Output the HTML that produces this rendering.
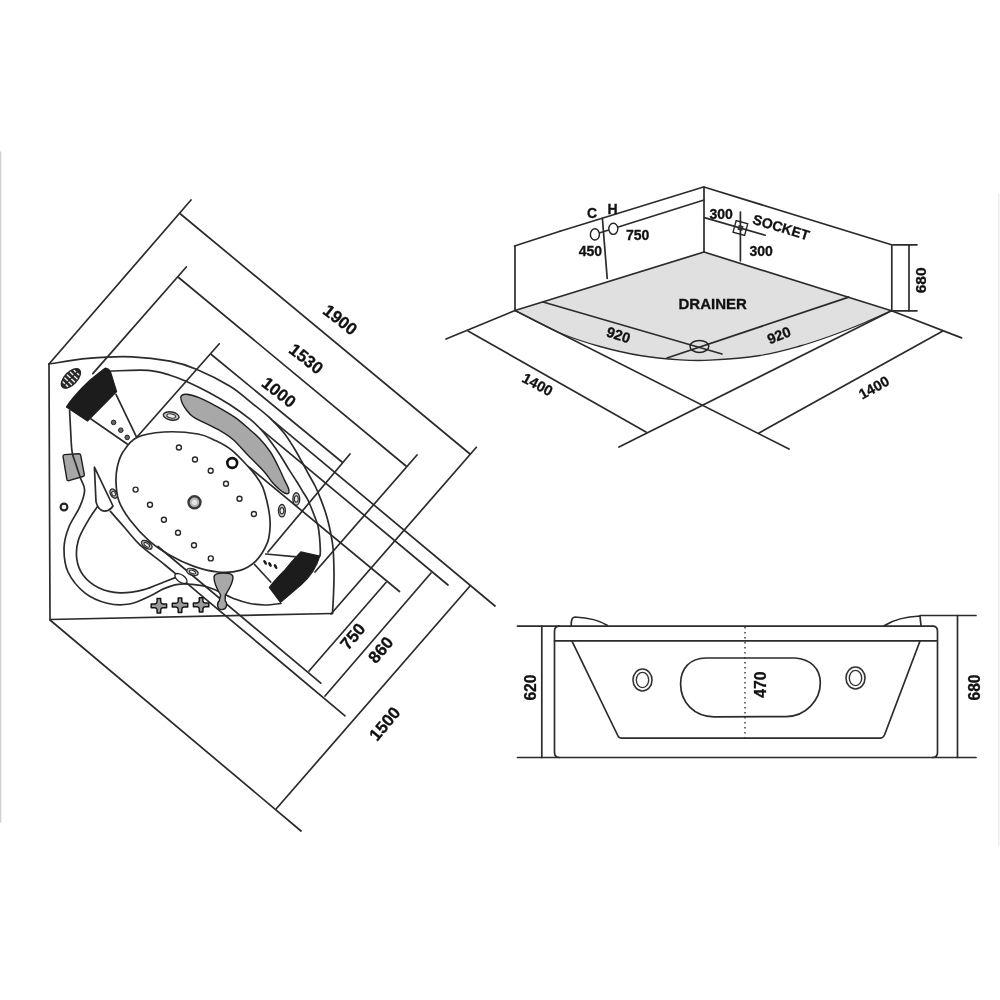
<!DOCTYPE html>
<html><head><meta charset="utf-8"><style>
html,body{margin:0;padding:0;background:#fff;}
svg{display:block;will-change:transform;}
.l{fill:none;stroke:#2b2b2b;stroke-width:1.7;stroke-linecap:round;stroke-linejoin:round;}
line{stroke:#2b2b2b;stroke-width:1.7;stroke-linecap:round;}
.g{fill:#a8a8a8;stroke:#1e1e1e;stroke-width:1.4;}
.b{fill:#1c1c1c;stroke:#1c1c1c;stroke-width:1.2;stroke-linejoin:round;}
text{font-family:"Liberation Sans",sans-serif;font-weight:bold;fill:#111;stroke:#111;stroke-width:0.3;}
</style></head><body>
<svg width="1000" height="1000" viewBox="0 0 1000 1000">
<rect width="1000" height="1000" fill="#fff"/>
<line x1="0.6" y1="152" x2="0.6" y2="822" style="stroke:#cfcfcf;stroke-width:1.3"/>
<line x1="998.8" y1="194" x2="998.8" y2="845" style="stroke:#ebebeb;stroke-width:1.3"/>
<path d="M49,364 L50,619.5 L332.5,613.5" class="l" />
<path d="M49.0,364.0 C55.5,363.1 74.2,359.6 88.0,358.4 C101.8,357.2 118.3,356.3 132.0,356.8 C145.7,357.3 159.3,359.1 170.0,361.2 C180.7,363.3 186.4,365.0 196.4,369.2 C206.4,373.4 221.1,380.8 230.0,386.2 C238.9,391.6 243.3,396.3 250.0,401.6 C256.7,406.9 264.3,412.8 270.0,418.0 C275.7,423.2 280.0,428.0 284.0,433.0 C288.0,438.0 291.0,443.2 294.0,448.0 C297.0,452.8 299.5,457.5 302.0,462.0 C304.5,466.5 306.7,470.8 309.0,475.0 C311.3,479.2 313.6,482.8 315.6,487.0 C317.6,491.2 319.5,495.9 321.2,500.4 C322.9,504.9 324.7,509.7 326.0,514.0 C327.3,518.3 328.3,522.0 329.2,526.0 C330.1,530.0 330.9,534.0 331.6,538.0 C332.3,542.0 332.8,544.3 333.2,550.0 C333.6,555.7 333.9,565.0 334.0,572.0 C334.1,579.0 333.9,585.1 333.6,592.0 C333.4,598.9 332.7,609.9 332.5,613.5" class="l" />
<path d="M111.0,371.0 C117.2,370.9 138.2,369.7 148.0,370.4 C157.8,371.1 163.7,373.4 170.0,375.2 C176.3,377.0 179.7,378.4 186.0,381.2 C192.3,384.0 200.7,388.1 208.0,392.0 C215.3,395.9 223.0,400.3 230.0,404.8 C237.0,409.3 244.8,415.1 250.0,419.2 C255.2,423.3 257.5,425.7 261.0,429.5 C264.5,433.3 267.8,437.7 271.0,442.0 C274.2,446.3 277.4,450.9 280.4,455.5 C283.4,460.1 286.2,465.2 289.0,469.6 C291.8,474.0 294.7,478.3 297.0,482.0 C299.3,485.7 301.1,488.8 303.0,492.0 C304.9,495.2 306.6,497.2 308.4,501.0 C310.2,504.8 312.4,510.6 314.0,514.8 C315.6,519.0 317.1,522.1 318.0,526.0 C318.9,529.9 319.2,534.0 319.6,538.0 C320.0,542.0 320.2,547.0 320.3,550.0 C320.4,553.0 320.1,555.0 320.0,556.0" class="l" />
<line x1="49" y1="364" x2="191" y2="200" class="l"/>
<line x1="180.5" y1="214" x2="470" y2="454" class="l"/>
<line x1="476.4" y1="447.3" x2="331" y2="614" class="l"/>
<line x1="92.8" y1="373.6" x2="186.3" y2="267" class="l"/>
<line x1="178" y1="277" x2="406" y2="466" class="l"/>
<line x1="417" y1="455" x2="315" y2="572" class="l"/>
<line x1="137" y1="437" x2="219.3" y2="343.8" class="l"/>
<line x1="211.3" y1="354.5" x2="342" y2="462" class="l"/>
<line x1="350" y1="454" x2="268" y2="552" class="l"/>
<line x1="50" y1="620" x2="301" y2="831" class="l"/>
<line x1="276.5" y1="808.5" x2="470" y2="586" class="l"/>
<line x1="274" y1="421.6" x2="495" y2="606" class="l"/>
<line x1="325" y1="696" x2="431" y2="573" class="l"/>
<line x1="260.4" y1="428.8" x2="448" y2="585" class="l"/>
<path d="M110.4,511.4 C112.8,514.2 120.0,522.3 125.0,528.0 C130.0,533.7 133.8,539.2 140.5,545.4 C147.2,551.6 155.1,556.9 165.0,565.0 C174.9,573.1 170.0,569.2 200.0,594.3 C230.0,619.4 320.8,695.5 345.0,715.8" class="l" />
<line x1="309" y1="671" x2="386" y2="582.5" class="l"/>
<line x1="249.5" y1="467.5" x2="399.5" y2="591.5" class="l"/>
<line x1="158" y1="546.5" x2="320.8" y2="683.2" class="l"/>
<text x="340" y="320" font-size="17" transform="rotate(38 340 320)" text-anchor="middle" dominant-baseline="central">1900</text>
<text x="306" y="359" font-size="17" transform="rotate(38 306 359)" text-anchor="middle" dominant-baseline="central">1530</text>
<text x="278.7" y="392.5" font-size="17" transform="rotate(38 278.7 392.5)" text-anchor="middle" dominant-baseline="central">1000</text>
<text x="353" y="636.5" font-size="17" transform="rotate(-50 353 636.5)" text-anchor="middle" dominant-baseline="central">750</text>
<text x="381" y="650" font-size="17" transform="rotate(-50 381 650)" text-anchor="middle" dominant-baseline="central">860</text>
<text x="385" y="724" font-size="17" transform="rotate(-50 385 724)" text-anchor="middle" dominant-baseline="central">1500</text>
<path d="M136.8,437.6 C143.6,434.3 153.8,432.6 164.0,432.0 C174.2,431.4 189.3,432.5 198.0,434.0 C206.7,435.5 210.3,438.1 216.0,440.8 C221.7,443.5 226.7,446.1 232.0,450.4 C237.3,454.7 244.0,462.1 248.0,466.4 C252.0,470.7 253.6,472.7 256.0,476.0 C258.4,479.3 260.6,482.4 262.4,486.4 C264.2,490.4 265.4,495.2 266.6,500.0 C267.8,504.8 268.9,510.3 269.5,515.0 C270.1,519.7 270.4,523.3 270.0,528.0 C269.6,532.7 269.5,537.7 267.2,543.2 C264.9,548.7 260.5,556.3 256.0,560.8 C251.5,565.3 246.3,568.5 240.0,570.4 C233.7,572.3 225.7,572.7 218.0,572.0 C210.3,571.3 202.0,569.2 194.0,566.4 C186.0,563.6 177.5,559.5 170.0,555.2 C162.5,550.9 155.9,546.7 149.2,540.8 C142.5,534.9 135.1,526.7 130.0,520.0 C124.9,513.3 121.1,507.1 118.8,500.8 C116.5,494.5 116.2,487.8 116.0,482.0 C115.8,476.2 116.3,471.0 117.5,466.0 C118.7,461.0 119.8,456.7 123.0,452.0 C126.2,447.3 130.0,440.9 136.8,437.6Z" class="l" />
<path d="M181.0,396.5 C181.6,395.1 183.0,394.1 186.0,394.3 C189.0,394.5 193.8,395.6 199.0,397.6 C204.2,399.7 211.0,403.3 217.0,406.6 C223.0,409.9 229.8,413.8 235.0,417.4 C240.2,421.0 243.8,424.4 248.0,428.0 C252.2,431.6 256.3,435.0 260.0,439.0 C263.7,443.0 267.4,447.5 270.4,452.0 C273.4,456.5 275.7,461.5 278.0,466.0 C280.3,470.5 282.2,475.2 284.0,479.0 C285.8,482.8 287.8,486.1 288.5,488.5 C289.2,490.9 289.2,492.4 288.5,493.2 C287.8,493.9 286.1,493.7 284.5,493.0 C282.9,492.3 281.1,490.8 279.0,489.0 C276.9,487.2 274.5,484.9 272.0,482.0 C269.5,479.1 268.0,476.0 264.0,471.5 C260.0,467.0 253.2,460.5 248.0,455.2 C242.8,449.9 237.7,443.6 233.0,439.5 C228.3,435.4 225.2,433.6 220.0,430.6 C214.8,427.6 206.5,423.9 202.0,421.6 C197.5,419.3 195.5,418.6 193.0,416.8 C190.5,415.0 188.8,413.1 187.0,410.8 C185.2,408.5 183.2,405.4 182.2,403.0 C181.2,400.6 180.4,397.9 181.0,396.5Z" class="g" />
<path d="M105.5,368.1 Q109,368.6 110.3,371.2 L116.6,391.6 L87.5,421 L66.4,407 C68.5,403.5 70.5,401 73.5,397.5 C76.5,394 79.5,390.5 83,387 C86.5,383.5 89.5,380.5 93,377.8 C96,375.3 98.5,373.3 101.2,371.2 C102.7,370 104,368.8 105.5,368.1 Z" class="b" />
<path d="M300.8,551.9 L319.7,556.1 C317,566 310,577 300.8,585 C295,590 287,597 280.5,602.3 L269.3,587.5 C275,580 280,575 284,571 C288,566 294,559 300.8,551.9 Z" class="b" />
<line x1="116" y1="394.4" x2="136.8" y2="437.6" class="l"/>
<line x1="91" y1="419" x2="127.2" y2="444" class="l"/>
<line x1="265.8" y1="554" x2="296.6" y2="556.8" class="l"/>
<line x1="254.6" y1="564.5" x2="270.7" y2="582" class="l"/>
<circle cx="113.6" cy="422.4" r="2.3" fill="#666" stroke="#222" stroke-width="1"/>
<circle cx="120.8" cy="430.2" r="2.3" fill="#666" stroke="#222" stroke-width="1"/>
<circle cx="127.2" cy="437.4" r="2.3" fill="#666" stroke="#222" stroke-width="1"/>
<ellipse cx="265.1" cy="562.4" rx="1.4" ry="2.7" style="fill:#1a1a1a" transform="rotate(-30 265.1 562.4)"/>
<ellipse cx="270" cy="564.5" rx="1.4" ry="2.7" style="fill:#1a1a1a" transform="rotate(-30 270 564.5)"/>
<ellipse cx="275.6" cy="566.6" rx="1.4" ry="2.7" style="fill:#1a1a1a" transform="rotate(-30 275.6 566.6)"/>
<g transform="rotate(-46 70.9 378.4)"><ellipse cx="70.9" cy="378.4" rx="12.2" ry="6.3" style="fill:#2a2a2a;stroke:#222;stroke-width:1.2"/><line x1="62.900000000000006" y1="375.2" x2="62.900000000000006" y2="381.59999999999997" style="stroke:#e8e8e8;stroke-width:1.4;stroke-linecap:round"/><line x1="66.9" y1="373.79999999999995" x2="66.9" y2="383.0" style="stroke:#e8e8e8;stroke-width:1.4;stroke-linecap:round"/><line x1="70.9" y1="373.4" x2="70.9" y2="383.4" style="stroke:#e8e8e8;stroke-width:1.4;stroke-linecap:round"/><line x1="74.9" y1="373.79999999999995" x2="74.9" y2="383.0" style="stroke:#e8e8e8;stroke-width:1.4;stroke-linecap:round"/><line x1="78.9" y1="375.2" x2="78.9" y2="381.59999999999997" style="stroke:#e8e8e8;stroke-width:1.4;stroke-linecap:round"/><line x1="60.900000000000006" y1="378.4" x2="80.9" y2="378.4" style="stroke:#222;stroke-width:1.3"/></g>
<path d="M64.5,454.6 L78.6,453.7 Q80.4,453.6 80.7,455.3 L84.3,474.3 Q84.6,476 82.9,476.5 L68.9,480.6 Q67.2,481 66.9,479.3 L63,456.3 Q62.9,454.7 64.5,454.6 Z" class="g" />
<circle cx="64" cy="507" r="3.4" fill="#f4f4f4" stroke="#222" stroke-width="2.1"/>
<path d="M69.6,410.4 C69.8,413.7 70.2,423.1 70.6,430.0 C71.0,436.9 71.2,446.0 72.1,451.8 C73.0,457.5 74.7,460.2 76.0,464.5 C77.3,468.8 78.8,473.1 80.2,477.4 C81.6,481.6 84.6,485.2 84.6,490.0 C84.6,494.8 82.6,500.2 80.0,506.4 C77.4,512.6 71.5,520.3 68.8,527.2 C66.1,534.1 64.1,540.5 64.0,548.0 C63.9,555.5 64.5,564.5 68.0,572.0 C71.5,579.5 78.3,587.6 84.8,592.8 C91.3,598.0 99.7,601.3 107.2,603.2 C114.7,605.1 122.5,605.2 129.6,604.0 C136.7,602.8 144.3,598.6 150.0,596.0 C155.7,593.4 159.3,590.5 164.0,588.6 C168.7,586.7 173.3,585.1 178.0,584.4 C182.7,583.7 187.3,584.0 192.0,584.4 C196.7,584.8 201.3,585.2 206.0,586.5 C210.7,587.8 215.2,589.9 220.0,592.0 C224.8,594.1 230.0,597.1 235.0,599.0 C240.0,600.9 245.0,602.5 250.0,603.5 C255.0,604.5 259.8,605.0 265.0,605.0 C270.2,605.0 278.3,603.8 281.0,603.5" class="l" />
<path d="M97.6,506.4 C96.0,508.8 91.2,515.2 88.0,520.8 C84.8,526.4 80.3,533.6 78.4,540.0 C76.5,546.4 76.0,553.3 76.8,559.2 C77.6,565.1 79.5,570.4 83.2,575.2 C86.9,580.0 93.1,585.1 99.2,588.0 C105.3,590.9 112.5,592.5 120.0,592.8 C127.5,593.1 136.7,591.4 144.0,589.6 C151.3,587.8 158.7,584.0 164.0,582.0 C169.3,580.0 174.0,578.2 176.0,577.4" class="l" />
<ellipse cx="181" cy="578.5" rx="7" ry="3.6" transform="rotate(35 181 578.5)" style="fill:#fff;stroke:#222;stroke-width:1.3"/>
<path d="M94.4,467.2 L96,501.6 Q98,510 104,511.2 Q110,511 113,506 Z" class="l" fill="#fff"/>
<circle cx="178.9" cy="447.5" r="2.5" fill="#fff" stroke="#2a2a2a" stroke-width="1.4"/>
<circle cx="195" cy="459.5" r="2.5" fill="#fff" stroke="#2a2a2a" stroke-width="1.4"/>
<circle cx="210.7" cy="470.8" r="2.5" fill="#fff" stroke="#2a2a2a" stroke-width="1.4"/>
<circle cx="226" cy="483.8" r="2.5" fill="#fff" stroke="#2a2a2a" stroke-width="1.4"/>
<circle cx="239.5" cy="498.7" r="2.5" fill="#fff" stroke="#2a2a2a" stroke-width="1.4"/>
<circle cx="253.9" cy="514" r="2.5" fill="#fff" stroke="#2a2a2a" stroke-width="1.4"/>
<circle cx="135.6" cy="489.6" r="2.5" fill="#fff" stroke="#2a2a2a" stroke-width="1.4"/>
<circle cx="150" cy="504.8" r="2.5" fill="#fff" stroke="#2a2a2a" stroke-width="1.4"/>
<circle cx="163.9" cy="519.7" r="2.5" fill="#fff" stroke="#2a2a2a" stroke-width="1.4"/>
<circle cx="178" cy="532.8" r="2.5" fill="#fff" stroke="#2a2a2a" stroke-width="1.4"/>
<circle cx="194" cy="545.3" r="2.5" fill="#fff" stroke="#2a2a2a" stroke-width="1.4"/>
<circle cx="210.8" cy="558.4" r="2.5" fill="#fff" stroke="#2a2a2a" stroke-width="1.4"/>
<circle cx="232.2" cy="463" r="4.9" style="fill:#fff;stroke:#111;stroke-width:2.6"/>
<circle cx="194.5" cy="502.3" r="6" fill="#bbb" stroke="#3a3a3a" stroke-width="2.4"/><circle cx="194.5" cy="502.3" r="2.6" fill="#e6e6e6"/>
<g transform="rotate(10 171.2 416)"><ellipse cx="171.2" cy="416" rx="8" ry="4" fill="#c4c4c4" stroke="#2a2a2a" stroke-width="1.4"/><ellipse cx="171.2" cy="416" rx="4.4" ry="2.0" fill="#eee" stroke="#333" stroke-width="1.1"/></g>
<g transform="rotate(0 296.3 498.9)"><ellipse cx="296.3" cy="498.9" rx="3.4" ry="6.2" fill="#c4c4c4" stroke="#2a2a2a" stroke-width="1.4"/><ellipse cx="296.3" cy="498.9" rx="1.9" ry="3.1" fill="#eee" stroke="#333" stroke-width="1.1"/></g>
<g transform="rotate(0 281.9 510.7)"><ellipse cx="281.9" cy="510.7" rx="3.4" ry="6.2" fill="#c4c4c4" stroke="#2a2a2a" stroke-width="1.4"/><ellipse cx="281.9" cy="510.7" rx="1.9" ry="3.1" fill="#eee" stroke="#333" stroke-width="1.1"/></g>
<g transform="rotate(-30 113.6 493.6)"><ellipse cx="113.6" cy="493.6" rx="3" ry="5" fill="#c4c4c4" stroke="#2a2a2a" stroke-width="1.4"/><ellipse cx="113.6" cy="493.6" rx="1.7" ry="2.5" fill="#eee" stroke="#333" stroke-width="1.1"/></g>
<g transform="rotate(35 146.8 544.8)"><ellipse cx="146.8" cy="544.8" rx="6" ry="3.2" fill="#c4c4c4" stroke="#2a2a2a" stroke-width="1.4"/><ellipse cx="146.8" cy="544.8" rx="3.3" ry="1.6" fill="#eee" stroke="#333" stroke-width="1.1"/></g>
<g transform="rotate(20 192.4 572)"><ellipse cx="192.4" cy="572" rx="6" ry="3.2" fill="#c4c4c4" stroke="#2a2a2a" stroke-width="1.4"/><ellipse cx="192.4" cy="572" rx="3.3" ry="1.6" fill="#eee" stroke="#333" stroke-width="1.1"/></g>
<path d="M151.2,603.9 L154.9,603.9 Q156.9,603.8 157.1,601.8 L157.1,598.6 L160.7,598.6 L160.7,601.8 Q160.9,603.8 162.9,603.9 L166.6,603.9 L166.6,607.7 L162.9,607.7 Q160.9,607.8 160.7,609.8 L160.7,613.0 L157.1,613.0 L157.1,609.8 Q156.9,607.8 154.9,607.7 L151.2,607.7 Z" style="fill:#9a9a9a;stroke:#151515;stroke-width:1.5;stroke-linejoin:round"/>
<path d="M172.3,603.3 L176.0,603.3 Q178.0,603.2 178.2,601.2 L178.2,598.0 L181.8,598.0 L181.8,601.2 Q182.0,603.2 184.0,603.3 L187.7,603.3 L187.7,607.1 L184.0,607.1 Q182.0,607.2 181.8,609.2 L181.8,612.4 L178.2,612.4 L178.2,609.2 Q178.0,607.2 176.0,607.1 L172.3,607.1 Z" style="fill:#9a9a9a;stroke:#151515;stroke-width:1.5;stroke-linejoin:round"/>
<path d="M193.4,603.0 L197.1,603.0 Q199.1,602.9 199.3,600.9 L199.3,597.7 L202.9,597.7 L202.9,600.9 Q203.1,602.9 205.1,603.0 L208.8,603.0 L208.8,606.8 L205.1,606.8 Q203.1,606.9 202.9,608.9 L202.9,612.1 L199.3,612.1 L199.3,608.9 Q199.1,606.9 197.1,606.8 L193.4,606.8 Z" style="fill:#9a9a9a;stroke:#151515;stroke-width:1.5;stroke-linejoin:round"/>
<path d="M214,577 C214,571.6 233,571.6 233,577 C233,584 228.5,590 225.3,595 L225.2,600.8 C227.5,603 227.2,609.6 221.9,609.6 C216.8,609.6 216.6,603.2 219.3,600.8 L220.6,595 C217.5,590 214,584 214,577 Z" class="g" />
<path d="M515.0,310.5 C522.5,314.2 545.8,327.0 560.0,333.0 C574.2,339.0 586.7,342.8 600.0,346.5 C613.3,350.2 626.7,353.3 640.0,355.5 C653.3,357.7 668.3,359.0 680.0,359.8 C691.7,360.6 696.7,360.9 710.0,360.2 C723.3,359.5 745.0,357.9 760.0,355.5 C775.0,353.1 788.0,349.3 800.0,346.0 C812.0,342.7 821.2,339.4 832.0,335.5 C842.8,331.6 855.1,326.6 865.0,322.5 C874.9,318.4 887.1,312.8 891.5,310.8 L704,252 Z" style="fill:#e0e0e0;stroke:none"/>
<line x1="514.5" y1="246" x2="560" y2="231.2" class="l"/>
<line x1="560" y1="231.2" x2="703.5" y2="187" class="l"/>
<line x1="515" y1="246" x2="515" y2="310.5" class="l"/>
<line x1="515" y1="310.5" x2="704" y2="252" class="l"/>
<line x1="704" y1="187" x2="704" y2="252" class="l"/>
<line x1="704" y1="187" x2="891.5" y2="244.8" class="l"/>
<line x1="891.8" y1="244.8" x2="891.8" y2="310.8" class="l"/>
<line x1="704" y1="252" x2="891.5" y2="310.8" class="l"/>
<line x1="590.5" y1="235.8" x2="704" y2="200" class="l"/>
<line x1="704.4" y1="217.6" x2="765.2" y2="235.2" class="l"/>
<line x1="602.4" y1="218.4" x2="607.2" y2="278.4" class="l"/>
<line x1="740.4" y1="212" x2="740.4" y2="260.8" class="l"/>
<path d="M515.0,310.5 C522.5,314.2 545.8,327.0 560.0,333.0 C574.2,339.0 586.7,342.8 600.0,346.5 C613.3,350.2 626.7,353.3 640.0,355.5 C653.3,357.7 668.3,359.0 680.0,359.8 C691.7,360.6 696.7,360.9 710.0,360.2 C723.3,359.5 745.0,357.9 760.0,355.5 C775.0,353.1 788.0,349.3 800.0,346.0 C812.0,342.7 821.2,339.4 832.0,335.5 C842.8,331.6 855.1,326.6 865.0,322.5 C874.9,318.4 887.1,312.8 891.5,310.8" class="l" style="stroke-width:1.3"/>
<line x1="543" y1="302" x2="722" y2="354" class="l"/>
<line x1="848.8" y1="297.1" x2="667" y2="358" class="l"/>
<ellipse cx="699.4" cy="346.4" rx="9.4" ry="6" fill="none" stroke="#222" stroke-width="1.5"/>
<ellipse cx="594.9" cy="234.4" rx="4.5" ry="5.6" fill="#fff" stroke="#222" stroke-width="1.4"/>
<ellipse cx="613.3" cy="228.8" rx="4.5" ry="5.6" fill="#fff" stroke="#222" stroke-width="1.4"/>
<rect x="734.4" y="222" width="12" height="12" fill="none" stroke="#222" stroke-width="1.3" transform="rotate(15 740.4 228)"/>
<rect x="738" y="225.5" width="5" height="5" fill="#333" transform="rotate(15 740.4 228)"/>
<line x1="515" y1="310.5" x2="446" y2="339" class="l"/>
<line x1="468" y1="331" x2="646" y2="432" class="l"/>
<line x1="515" y1="310.5" x2="789" y2="449" class="l"/>
<line x1="891.5" y1="310.8" x2="619" y2="447" class="l"/>
<line x1="891.5" y1="310.8" x2="961.6" y2="337.9" class="l"/>
<line x1="942.4" y1="331.2" x2="759" y2="433" class="l"/>
<line x1="893" y1="244.8" x2="917" y2="244.8" class="l"/>
<line x1="893" y1="310.8" x2="917" y2="310.8" class="l"/>
<line x1="909" y1="244.8" x2="909" y2="310.8" class="l"/>
<text x="592" y="217.5" font-size="14" text-anchor="middle">C</text>
<text x="612.5" y="213.5" font-size="14" text-anchor="middle">H</text>
<text x="637.6" y="239.5" font-size="14" text-anchor="middle">750</text>
<text x="590.4" y="255.5" font-size="14" text-anchor="middle">450</text>
<text x="721.2" y="218.7" font-size="14" text-anchor="middle">300</text>
<text x="761.2" y="256.3" font-size="14" text-anchor="middle">300</text>
<text x="781.2" y="227.2" font-size="14" transform="rotate(17 781.2 227.2)" text-anchor="middle" dominant-baseline="central">SOCKET</text>
<text x="712.7" y="303.2" font-size="15" text-anchor="middle" dominant-baseline="central">DRAINER</text>
<text x="618.5" y="335" font-size="14.5" transform="rotate(18 618.5 335)" text-anchor="middle" dominant-baseline="central">920</text>
<text x="779" y="335.3" font-size="14.5" transform="rotate(-22 779 335.3)" text-anchor="middle" dominant-baseline="central">920</text>
<text x="537.5" y="384.5" font-size="14.5" transform="rotate(28 537.5 384.5)" text-anchor="middle" dominant-baseline="central">1400</text>
<text x="874" y="387.6" font-size="14.5" transform="rotate(-29 874 387.6)" text-anchor="middle" dominant-baseline="central">1400</text>
<text x="920.2" y="280.3" font-size="15.5" transform="rotate(-90 920.2 280.3)" text-anchor="middle" dominant-baseline="central">680</text>
<line x1="517.5" y1="626.2" x2="932.5" y2="626.2" class="l"/>
<line x1="517.5" y1="757.5" x2="976" y2="757.5" class="l"/>
<line x1="541.8" y1="626.2" x2="541.8" y2="757.5" class="l"/>
<path d="M559.5,626.2 Q554.5,626.2 554.5,631.2 L554.5,752.5 Q554.5,757.5 559.5,757.5" class="l" fill="none"/>
<path d="M932.5,626.2 Q937.5,626.2 937.5,631.2 L937.5,752.5 Q937.5,757.5 932.5,757.5" class="l" fill="none"/>
<line x1="554.5" y1="640.8" x2="936.5" y2="640.8" class="l"/>
<path d="M572,641.2 L618,736 Q619,738.2 622,738.2 L880,738.2 Q883,738.2 884.5,735 L920,641" class="l" fill="none"/>
<path d="M571.2,625.5 Q571,617 575,617 Q596,618 607.5,625.5" class="l" fill="none"/>
<path d="M884.5,625.5 Q898,617 920,616 L921,625.5" class="l" fill="none"/>
<path d="M706,658 L795,658 C810,659 820.3,668 820.3,683 C820.3,700 806,716.5 786,716.6 L714,716.8 C694,716.5 680.6,702 680.6,684 C680.6,668 690,658.3 706,658 Z" class="l" />
<ellipse cx="642.5" cy="680" rx="9.5" ry="11" fill="none" stroke="#333" stroke-width="1.6"/><ellipse cx="642.5" cy="680" rx="6.2" ry="7.6" fill="none" stroke="#333" stroke-width="1.4"/>
<ellipse cx="855.5" cy="678" rx="9.5" ry="11" fill="none" stroke="#333" stroke-width="1.6"/><ellipse cx="855.5" cy="678" rx="6.2" ry="7.6" fill="none" stroke="#333" stroke-width="1.4"/>
<line x1="745" y1="627" x2="745" y2="738" style="stroke:#333;stroke-width:1.4;stroke-dasharray:1.5,3.5;stroke-linecap:butt"/>
<line x1="920" y1="615.5" x2="976" y2="615.5" class="l"/>
<line x1="957.5" y1="615.5" x2="957.5" y2="757.5" class="l"/>
<text x="530.7" y="687.5" font-size="15.7" transform="rotate(-90 530.7 687.5)" text-anchor="middle" dominant-baseline="central">620</text>
<text x="760.1" y="684.6" font-size="15.8" transform="rotate(-90 760.1 684.6)" text-anchor="middle" dominant-baseline="central">470</text>
<text x="974.5" y="687.5" font-size="15.7" transform="rotate(-90 974.5 687.5)" text-anchor="middle" dominant-baseline="central">680</text>
</svg>
</body></html>
